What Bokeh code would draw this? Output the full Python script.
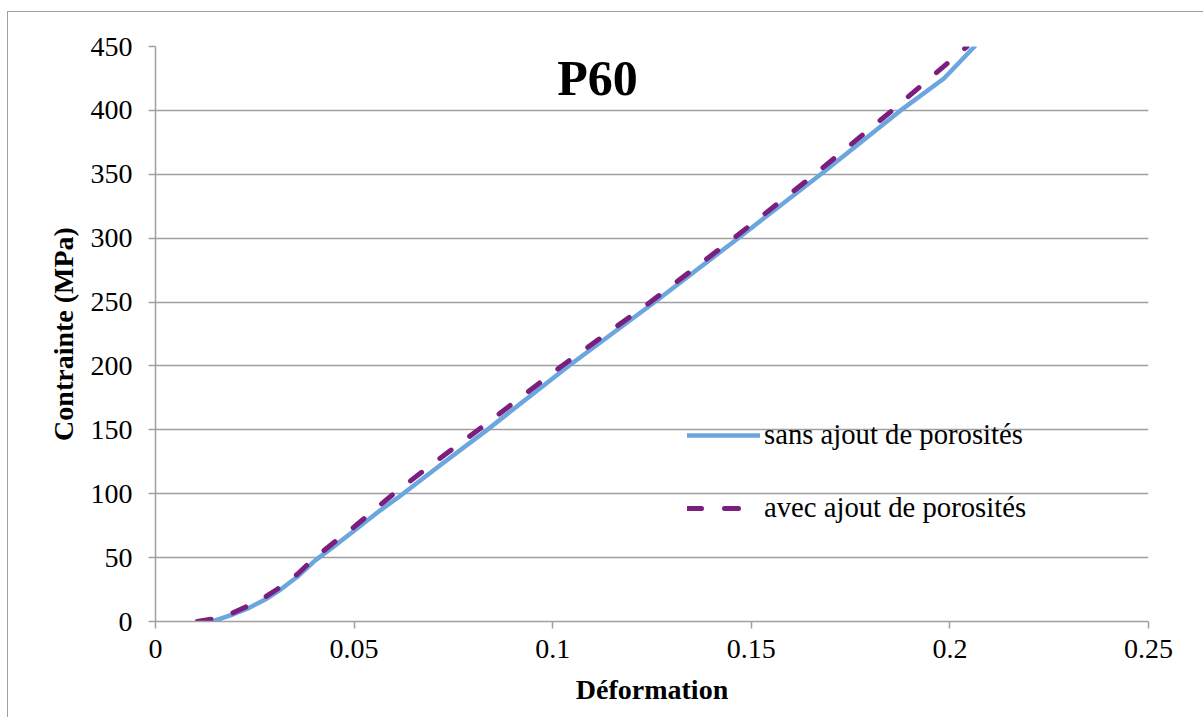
from bokeh.plotting import figure
from bokeh.models import Range1d, FixedTicker, Legend, LegendItem, Label
from bokeh.embed import file_html
from bokeh.resources import INLINE

# ---- data ----
strain_sans = [0.0143, 0.0190, 0.0231, 0.0275, 0.0315, 0.0357, 0.0403, 0.0450,
               0.0500, 0.0566, 0.0615, 0.0720, 0.0835, 0.1040, 0.1257, 0.1467,
               0.1675, 0.1876, 0.1985, 0.2062]
stress_sans = [0, 5, 10, 17, 25, 35, 48, 59, 71, 87, 98, 123, 150, 200, 250, 300,
               350, 400, 425, 450]

strain_avec = [0.0105, 0.0146, 0.0190, 0.0231, 0.0275, 0.0315, 0.0357, 0.0398,
               0.0450, 0.0500, 0.0596, 0.0700, 0.0813, 0.1023, 0.1246, 0.1456,
               0.1660, 0.1855, 0.2043]
stress_avec = [0, 2, 6, 12, 19, 27, 37, 49, 62, 74, 99, 124, 150, 200, 250, 300,
               350, 400, 450]

series_names = ["sans ajout de porosités", "avec ajout de porosités"]
x_ticks = [0, 0.05, 0.1, 0.15, 0.2, 0.25]
x_tick_labels = ["0", "0.05", "0.1", "0.15", "0.2", "0.25"]
y_ticks = [0, 50, 100, 150, 200, 250, 300, 350, 400, 450]
title_text = "P60"
x_label = "Déformation"
y_label = "Contrainte (MPa)"

SERIF = "Liberation Serif"
GRAY = "#A0A0A0"
BLUE = "#6CA6DE"
PURPLE = "#7B1E7E"

p = figure(width=1196, height=706,
           x_range=Range1d(0, 0.25), y_range=Range1d(0, 450),
           output_backend="svg", toolbar_location=None,
           min_border_left=147, min_border_right=56,
           min_border_top=34, min_border_bottom=97)
p.outline_line_color = None
p.background_fill_color = "white"
p.border_fill_color = "white"
# outer chart border (only left and top fall inside the picture)
p.styles = {"margin-left": "7px", "margin-top": "11px",
            "border-left": "1px solid #A0A0A0",
            "border-top": "1px solid #A0A0A0"}

# grid
p.xgrid.visible = False
p.ygrid.ticker = FixedTicker(ticks=y_ticks)
p.ygrid.grid_line_color = GRAY
p.ygrid.grid_line_width = 1.5

# axes
p.xaxis.ticker = FixedTicker(ticks=x_ticks)
p.xaxis.major_label_overrides = dict(zip(x_ticks, x_tick_labels))
p.yaxis.ticker = FixedTicker(ticks=y_ticks)
for ax in (p.xaxis[0], p.yaxis[0]):
    ax.axis_line_color = GRAY
    ax.axis_line_width = 1.5
    ax.major_tick_line_color = GRAY
    ax.major_tick_line_width = 1.5
    ax.major_tick_in = 0
    ax.major_tick_out = 7
    ax.minor_tick_line_color = None
    ax.major_label_text_font = SERIF
    ax.major_label_text_font_size = "28px"
    ax.major_label_text_color = "black"
    ax.axis_label_text_font = SERIF
    ax.axis_label_text_font_size = "28px"
    ax.axis_label_text_font_style = "bold"
    ax.axis_label_text_color = "black"

p.xaxis.axis_label = x_label
p.yaxis.axis_label = y_label
p.xaxis.major_label_standoff = 11
p.xaxis.axis_label_standoff = 13
p.yaxis.major_label_standoff = 16
p.yaxis.axis_label_standoff = 9

# series
r1 = p.line(strain_sans, stress_sans, line_color=BLUE, line_width=4.5,
            line_cap="round", line_join="round")
r2 = p.line(strain_avec, stress_avec, line_color=PURPLE, line_width=5,
            line_dash="14 23", line_cap="round", line_join="round")

legend = Legend(items=[LegendItem(label=series_names[0], renderers=[r1]),
                       LegendItem(label=series_names[1], renderers=[r2])],
                location=(532, 97), orientation="vertical",
                glyph_width=73, glyph_height=30, label_height=30,
                spacing=40, padding=0, margin=0, label_standoff=4,
                border_line_color=None, background_fill_alpha=0,
                label_text_font=SERIF, label_text_font_size="28.7px",
                label_text_color="black")
p.add_layout(legend)

# title inside plot area
p.add_layout(Label(x=0.1113, y=425, text=title_text, text_font=SERIF,
                   text_font_style="bold", text_font_size="50px",
                   text_align="center", text_baseline="middle",
                   text_color="black"))

open("out.html", "w").write(file_html(p, INLINE))
